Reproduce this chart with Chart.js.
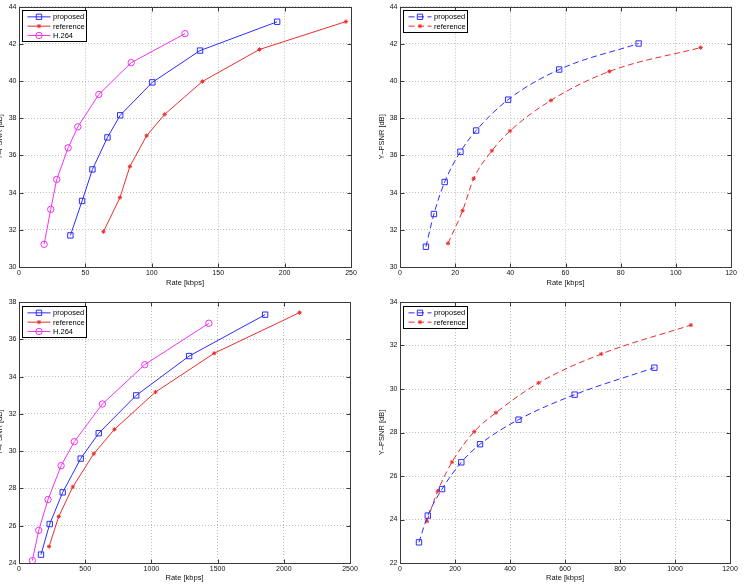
<!DOCTYPE html>
<html>
<head>
<meta charset="utf-8">
<script src="https://cdn.jsdelivr.net/npm/chart.js@4.4.0/dist/chart.umd.min.js"></script>
<style>
    html, body { margin: 0; padding: 0; background: #fff; }
    #wrap { position: relative; width: 744px; height: 585px; overflow: hidden; background: #fff; }
    canvas { position: absolute; }
</style>
</head>
<body>
<div id="wrap">
    <canvas id="tl" width="372" height="290" style="left:0;top:0"></canvas>
    <canvas id="tr" width="372" height="290" style="left:372px;top:0"></canvas>
    <canvas id="bl" width="372" height="295" style="left:0;top:290px"></canvas>
    <canvas id="br" width="372" height="295" style="left:372px;top:290px"></canvas>
</div>
<script>
// top-left panel (solid lines)
const tlRateProposed = [38.7, 47.5, 55.3, 66.6, 76.2, 100.4, 136.3, 194.4];
const tlPsnrProposed = [31.7, 33.55, 35.25, 36.97, 38.16, 39.93, 41.64, 43.19];
const tlRateReference = [63.6, 76.0, 83.5, 96.1, 109.7, 138.1, 181.1, 246.2];
const tlPsnrReference = [31.9, 33.73, 35.41, 37.06, 38.21, 39.98, 41.7, 43.2];
const tlRateH264 = [18.9, 23.9, 28.4, 37.0, 44.3, 60.1, 84.5, 125.0];
const tlPsnrH264 = [31.22, 33.1, 34.71, 36.41, 37.54, 39.28, 40.99, 42.55];

// top-right panel (dashed, smoothed)
const trRateProposed = [9.4, 12.3, 16.2, 21.9, 27.6, 39.2, 57.7, 86.5];
const trPsnrProposed = [31.09, 32.85, 34.57, 36.2, 37.34, 39.0, 40.62, 42.02];
const trRateReference = [17.4, 22.7, 26.7, 33.3, 39.9, 54.7, 75.9, 109.0];
const trPsnrReference = [31.27, 33.03, 34.75, 36.25, 37.32, 38.96, 40.52, 41.8];

// bottom-left panel (solid lines)
const blRateProposed = [166, 232, 330, 466, 602, 885, 1285, 1859];
const blPsnrProposed = [24.45, 26.09, 27.79, 29.6, 30.96, 32.99, 35.1, 37.32];
const blRateReference = [227, 300, 406, 565, 721, 1031, 1474, 2119];
const blPsnrReference = [24.88, 26.49, 28.08, 29.86, 31.17, 33.17, 35.25, 37.43];
const blRateH264 = [101, 149, 219, 318, 418, 630, 950, 1434];
const blPsnrH264 = [24.13, 25.75, 27.4, 29.22, 30.51, 32.53, 34.64, 36.86];

// bottom-right panel (dashed, smoothed)
const brRateProposed = [69, 101, 153, 223, 291, 431, 635, 925];
const brPsnrProposed = [22.95, 24.18, 25.4, 26.63, 27.46, 28.59, 29.74, 30.98];
const brRateReference = [98, 137, 189, 270, 349, 504, 732, 1058];
const brPsnrReference = [23.92, 25.3, 26.64, 28.04, 28.91, 30.28, 31.61, 32.94];

// axis ranges: [min, max, step]
const tlX = [0, 250, 50], tlY = [30, 44, 2];
const trX = [0, 120, 20], trY = [30, 44, 2];
const blX = [0, 2500, 500], blY = [24, 38, 2];
const brX = [0, 1200, 200], brY = [22, 34, 2];

const FONT = "'Liberation Sans', Arial, Helvetica, sans-serif";
const BLUE = 'rgb(45,45,255)', RED = 'rgb(235,45,45)', MAGENTA = 'rgb(240,50,240)';
const DASH = [6, 3.5];

const styles = {
    proposed: { color: BLUE, marker: 'rect', size: 3.8 },
    reference: { color: RED, marker: 'star', size: 2.1 },
    'H.264': { color: MAGENTA, marker: 'circle', size: 3.2 }
};

function series(label, xs, ys, dashed) {
    const st = styles[label];
    return {
        label: label,
        data: xs.map((v, i) => ({ x: v, y: ys[i] })),
        showLine: true,
        borderColor: st.color,
        backgroundColor: 'transparent',
        borderWidth: 1,
        borderDash: dashed ? DASH : [],
        tension: dashed ? 0.4 : 0,
        cubicInterpolationMode: dashed ? 'monotone' : 'default',
        pointStyle: st.marker,
        pointRadius: st.size,
        pointBorderColor: st.color,
        pointBackgroundColor: 'transparent',
        pointBorderWidth: 1
    };
}

// MATLAB-like box with inward tick marks
const boxPlugin = {
    id: 'box',
    afterDatasetsDraw(chart) {
        const { ctx, chartArea: a, scales } = chart;
        const L = Math.round(a.left) + 0.5, R = Math.round(a.right) + 0.5;
        const T = Math.round(a.top) + 0.5, B = Math.round(a.bottom) + 0.5;
        ctx.save();
        ctx.strokeStyle = '#3a3a3a';
        ctx.lineWidth = 1;
        ctx.setLineDash([]);
        ctx.strokeRect(L, T, R - L, B - T);
        ctx.beginPath();
        scales.x.ticks.forEach(t => {
            const p = Math.round(scales.x.getPixelForValue(t.value)) + 0.5;
            ctx.moveTo(p, B); ctx.lineTo(p, B - 4);
            ctx.moveTo(p, T); ctx.lineTo(p, T + 4);
        });
        scales.y.ticks.forEach(t => {
            const p = Math.round(scales.y.getPixelForValue(t.value)) + 0.5;
            ctx.moveTo(L, p); ctx.lineTo(L + 4, p);
            ctx.moveTo(R, p); ctx.lineTo(R - 4, p);
        });
        ctx.stroke();
        ctx.restore();
    }
};

// legend box in the upper-left corner of the axes
const legendPlugin = {
    id: 'mlegend',
    afterDraw(chart) {
        const { ctx, chartArea: a } = chart;
        const sets = chart.data.datasets;
        const rowH = 9.3;
        const x0 = Math.round(a.left + 3) + 0.5, y0 = Math.round(a.top + 3.5) + 0.5;
        const w = 64, h = Math.round(rowH * sets.length + 3);
        ctx.save();
        ctx.fillStyle = '#fff';
        ctx.fillRect(x0, y0, w, h);
        ctx.strokeStyle = '#000';
        ctx.lineWidth = 1;
        ctx.strokeRect(x0, y0, w, h);
        sets.forEach((s, i) => {
            const cy = y0 + 1.7 + rowH * (i + 0.5);
            ctx.strokeStyle = s.borderColor;
            ctx.lineWidth = 1;
            ctx.setLineDash(s.borderDash);
            ctx.beginPath();
            ctx.moveTo(x0 + 5, cy);
            ctx.lineTo(x0 + 28, cy);
            ctx.stroke();
            ctx.setLineDash([]);
            ctx.fillStyle = 'rgba(0,0,0,0)';
            Chart.helpers.drawPoint(ctx, {
                pointStyle: s.pointStyle, radius: s.pointRadius, borderWidth: 1, rotation: 0
            }, x0 + 16.5, cy);
            ctx.fillStyle = '#000';
            ctx.font = '7.5px ' + FONT;
            ctx.textBaseline = 'middle';
            ctx.textAlign = 'left';
            ctx.fillText(s.label, x0 + 30.5, cy + 0.5);
        });
        ctx.restore();
    }
};

function panel(id, datasets, xr, yr, box) {
    return new Chart(document.getElementById(id), {
        type: 'scatter',
        data: { datasets: datasets },
        plugins: [boxPlugin, legendPlugin],
        options: {
            responsive: false,
            animation: false,
            events: [],
            layout: { padding: { top: box.top, right: box.right, left: 0, bottom: 0 } },
            plugins: { legend: { display: false }, tooltip: { enabled: false } },
            scales: {
                x: {
                    type: 'linear', min: xr[0], max: xr[1],
                    afterFit: s => { s.height = box.xh; },
                    ticks: {
                        stepSize: xr[2], padding: 1.5, maxRotation: 0, autoSkip: false,
                        format: { useGrouping: false },
                        color: '#111', font: { family: FONT, size: 7 }
                    },
                    grid: { color: '#bdbdbd', drawTicks: false, lineWidth: 1 },
                    border: { display: false, dash: [1, 2] },
                    title: { display: true, text: 'Rate [kbps]', color: '#111', font: { family: FONT, size: 7.5 }, padding: { top: 0, bottom: 3 } }
                },
                y: {
                    type: 'linear', min: yr[0], max: yr[1],
                    afterFit: s => { s.width = box.yw; },
                    ticks: { stepSize: yr[2], padding: 2.5, color: '#111', font: { family: FONT, size: 7 } },
                    grid: { color: '#bdbdbd', drawTicks: false, lineWidth: 1 },
                    border: { display: false, dash: [1, 2] },
                    title: { display: true, text: 'Y\u2013PSNR [dB]', color: '#111', font: { family: FONT, size: 7.5 }, padding: { top: box.ytp, bottom: 0 } }
                }
            }
        }
    });
}

panel('tl', [
    series('proposed', tlRateProposed, tlPsnrProposed, false),
    series('reference', tlRateReference, tlPsnrReference, false),
    series('H.264', tlRateH264, tlPsnrH264, false)
], tlX, tlY, { top: 3, right: 21, xh: 23, yw: 19, ytp: -4.5 });

panel('tr', [
    series('proposed', trRateProposed, trPsnrProposed, true),
    series('reference', trRateReference, trPsnrReference, true)
], trX, trY, { top: 3, right: 13, xh: 23, yw: 28, ytp: 5 });

panel('bl', [
    series('proposed', blRateProposed, blPsnrProposed, false),
    series('reference', blRateReference, blPsnrReference, false),
    series('H.264', blRateH264, blPsnrH264, false)
], blX, blY, { top: 12, right: 22, xh: 22, yw: 19, ytp: -4.5 });

panel('br', [
    series('proposed', brRateProposed, brPsnrProposed, true),
    series('reference', brRateReference, brPsnrReference, true)
], brX, brY, { top: 12, right: 14, xh: 22, yw: 28, ytp: 5 });
</script>
</body>
</html>
